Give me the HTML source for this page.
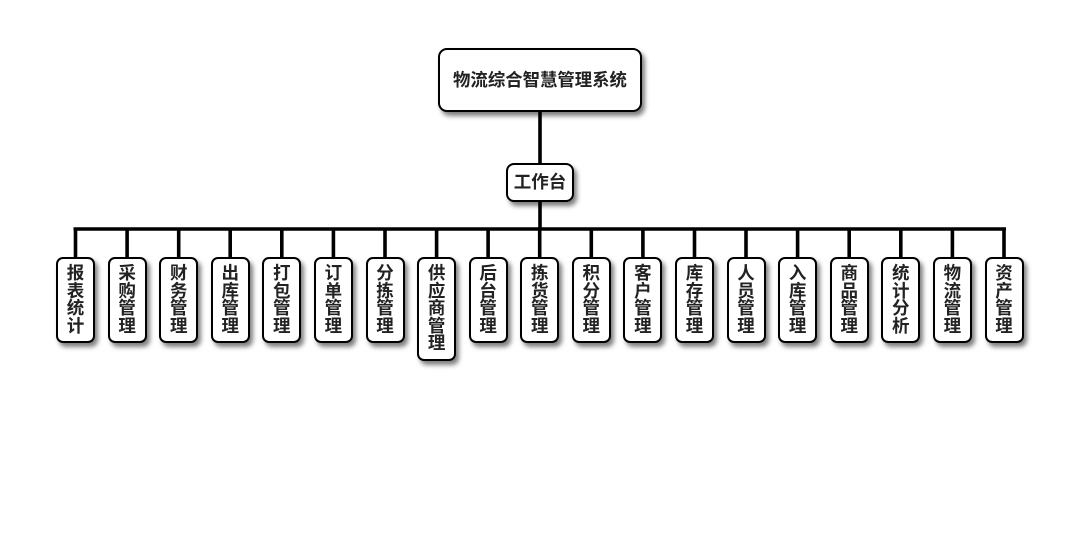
<!DOCTYPE html>
<html>
<head>
<meta charset="utf-8">
<style>
  html,body{margin:0;padding:0;background:#fff;}
  body{width:1080px;height:560px;position:relative;overflow:hidden;
    font-family:"Liberation Sans","Noto Sans CJK SC",sans-serif;font-weight:bold;color:#222;}
  .box{position:absolute;box-sizing:border-box;border:2px solid #000;background:#fff;
    box-shadow:3px 4px 5px rgba(0,0,0,0.5);}
  .root{left:438px;top:48px;width:204px;height:64px;border-radius:9px;
    font-size:17.4px;line-height:60px;text-align:center;}
  .mid{left:506px;top:163px;width:68px;height:39px;border-radius:8px;
    font-size:17.5px;line-height:35px;text-align:center;}
  .leaf{top:257px;width:39px;height:86px;border-radius:7px;
    font-size:17.5px;line-height:17.5px;text-align:center;padding-top:6px;}
  .leaf.tall{height:104px;}
  .leaf span{display:block;height:17.5px;}
  svg{position:absolute;left:0;top:0;}
</style>
</head>
<body>
<svg width="1080" height="560">
  <g stroke="#000" stroke-width="3.6" fill="none">
    <line x1="540" y1="112" x2="540" y2="164"/>
    <line x1="540" y1="201" x2="540" y2="229"/>
    <line x1="73.5" y1="229" x2="1006" y2="229"/>
    <line x1="75.5" y1="229" x2="75.5" y2="258"/>
    <line x1="127.1" y1="229" x2="127.1" y2="258"/>
    <line x1="178.7" y1="229" x2="178.7" y2="258"/>
    <line x1="230.2" y1="229" x2="230.2" y2="258"/>
    <line x1="281.8" y1="229" x2="281.8" y2="258"/>
    <line x1="333.4" y1="229" x2="333.4" y2="258"/>
    <line x1="385.0" y1="229" x2="385.0" y2="258"/>
    <line x1="436.6" y1="229" x2="436.6" y2="258"/>
    <line x1="488.1" y1="229" x2="488.1" y2="258"/>
    <line x1="539.7" y1="229" x2="539.7" y2="258"/>
    <line x1="591.3" y1="229" x2="591.3" y2="258"/>
    <line x1="642.9" y1="229" x2="642.9" y2="258"/>
    <line x1="694.5" y1="229" x2="694.5" y2="258"/>
    <line x1="746.0" y1="229" x2="746.0" y2="258"/>
    <line x1="797.6" y1="229" x2="797.6" y2="258"/>
    <line x1="849.2" y1="229" x2="849.2" y2="258"/>
    <line x1="900.8" y1="229" x2="900.8" y2="258"/>
    <line x1="952.4" y1="229" x2="952.4" y2="258"/>
    <line x1="1004.0" y1="229" x2="1004.0" y2="258"/>
  </g>
</svg>

<div class="box root">物流综合智慧管理系统</div>
<div class="box mid">工作台</div>

<div class="box leaf" style="left:56px"><span>报</span><span>表</span><span>统</span><span>计</span></div>
<div class="box leaf" style="left:107.6px"><span>采</span><span>购</span><span>管</span><span>理</span></div>
<div class="box leaf" style="left:159.2px"><span>财</span><span>务</span><span>管</span><span>理</span></div>
<div class="box leaf" style="left:210.7px"><span>出</span><span>库</span><span>管</span><span>理</span></div>
<div class="box leaf" style="left:262.3px"><span>打</span><span>包</span><span>管</span><span>理</span></div>
<div class="box leaf" style="left:313.9px"><span>订</span><span>单</span><span>管</span><span>理</span></div>
<div class="box leaf" style="left:365.5px"><span>分</span><span>拣</span><span>管</span><span>理</span></div>
<div class="box leaf tall" style="left:417.1px"><span>供</span><span>应</span><span>商</span><span>管</span><span>理</span></div>
<div class="box leaf" style="left:468.6px"><span>后</span><span>台</span><span>管</span><span>理</span></div>
<div class="box leaf" style="left:520.2px"><span>拣</span><span>货</span><span>管</span><span>理</span></div>
<div class="box leaf" style="left:571.8px"><span>积</span><span>分</span><span>管</span><span>理</span></div>
<div class="box leaf" style="left:623.4px"><span>客</span><span>户</span><span>管</span><span>理</span></div>
<div class="box leaf" style="left:675.0px"><span>库</span><span>存</span><span>管</span><span>理</span></div>
<div class="box leaf" style="left:726.5px"><span>人</span><span>员</span><span>管</span><span>理</span></div>
<div class="box leaf" style="left:778.1px"><span>入</span><span>库</span><span>管</span><span>理</span></div>
<div class="box leaf" style="left:829.7px"><span>商</span><span>品</span><span>管</span><span>理</span></div>
<div class="box leaf" style="left:881.3px"><span>统</span><span>计</span><span>分</span><span>析</span></div>
<div class="box leaf" style="left:932.9px"><span>物</span><span>流</span><span>管</span><span>理</span></div>
<div class="box leaf" style="left:984.5px"><span>资</span><span>产</span><span>管</span><span>理</span></div>
</body>
</html>
